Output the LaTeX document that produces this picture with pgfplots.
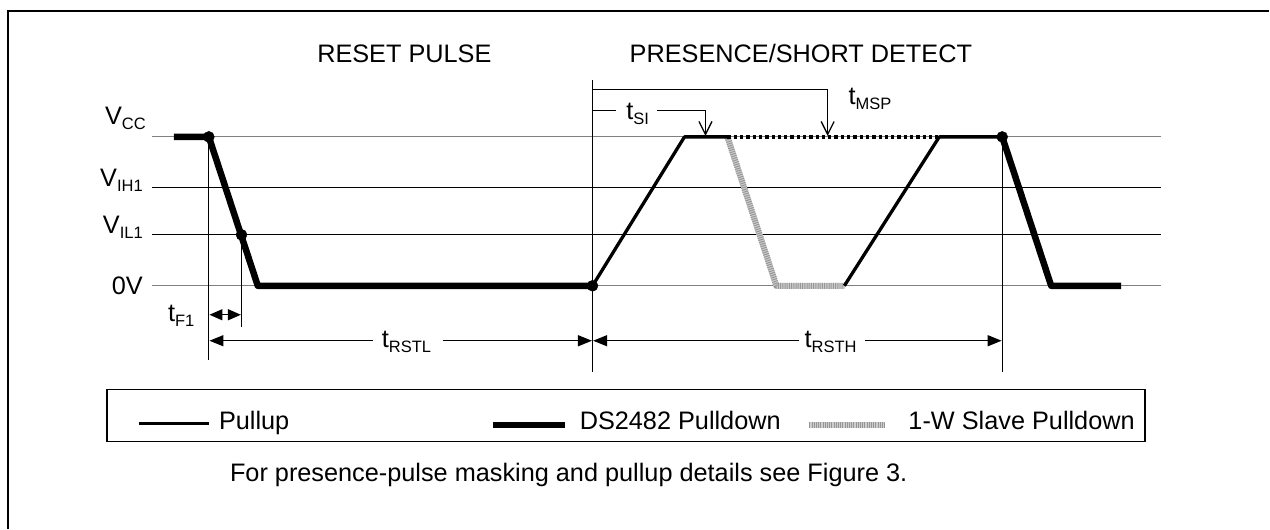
\documentclass[border=0pt]{standalone}
\usepackage{pgfplots}
\pgfplotsset{compat=1.18}
\usetikzlibrary{arrows.meta}
\usepackage{fontspec}
\setmainfont{Liberation Sans}
\newcommand{\sub}[1]{\raisebox{-5pt}{\fontsize{16.5}{16.5}\selectfont #1}}
\definecolor{refgray}{RGB}{128,128,128}
\definecolor{slavegray}{RGB}{205,205,205}
\definecolor{slavedark}{RGB}{150,150,150}
\begin{document}
\begin{tikzpicture}
\begin{axis}[hide axis, scale only axis, width=1270pt, height=529pt,
  xmin=0, xmax=1270, ymin=0, ymax=529, y dir=reverse, clip=false]
% page extent
\path (axis cs:0,0) rectangle (axis cs:1270,529);
% frame
\draw[line width=2pt] (axis cs:8.3,529) -- (axis cs:8.3,11) -- (axis cs:1270,11);
% reference levels
\addplot[refgray, line width=1.2pt] coordinates {(152,137)(1162,137)};
\addplot[black, line width=1pt] coordinates {(152,188)(1162,188)};
\addplot[black, line width=1pt] coordinates {(152,235)(1162,235)};
\addplot[refgray, line width=1.2pt] coordinates {(152,286)(1162,286)};
% vertical timing lines
\draw[line width=1.3pt] (axis cs:209,137) -- (axis cs:209,360);
\draw[line width=1.3pt] (axis cs:241.7,235) -- (axis cs:241.7,327);
\draw[line width=1.3pt] (axis cs:593,80) -- (axis cs:593,372);
\draw[line width=1.3pt] (axis cs:1003,137) -- (axis cs:1003,372);
% waveforms
\addplot[slavegray, line width=6pt, line join=round] coordinates {(728,137)(777,286)(845,286)};
\addplot[slavedark, line width=6pt, line join=round, dash pattern=on 1pt off 1.2pt] coordinates {(728,137)(777,286)(845,286)};
\addplot[black, line width=3.3pt, dash pattern=on 3.3pt off 3pt] coordinates {(728,137)(940,137)};
\addplot[black, line width=3.3pt, line join=round] coordinates {(593,286)(685,137)(728,137)};
\addplot[black, line width=3.3pt, line join=round] coordinates {(845,286)(940,137)(1003,137)};
\addplot[black, line width=6.5pt, line join=round] coordinates {(174,137)(209,137)(258,286)(593,286)};
\addplot[black, line width=6.5pt, line join=round] coordinates {(1003,137)(1052,286)(1122,286)};
\addplot[only marks, mark=*, mark size=5.5, black] coordinates {(209,137)(241.7,235)(593,286)(1003,137)};
% top brackets
\draw[line width=1.3pt] (axis cs:593,110.7) -- (axis cs:616.7,110.7);
\draw[line width=1.3pt, -{Straight Barb[length=13pt,width=13pt]}] (axis cs:658,110.7) -- (axis cs:706,110.7) -- (axis cs:706,136);
\draw[line width=1.3pt, -{Straight Barb[length=13pt,width=13pt]}] (axis cs:593,89.3) -- (axis cs:828.3,89.3) -- (axis cs:828.3,136);
% dimension arrows
\draw[line width=1.3pt, {Triangle[length=13pt,width=11pt]}-{Triangle[length=13pt,width=11pt]}] (axis cs:209.6,315) -- (axis cs:241.1,315);
\draw[line width=1.3pt, -{Triangle[length=14pt,width=11pt]}] (axis cs:373,341) -- (axis cs:209.6,341);
\draw[line width=1.3pt, -{Triangle[length=14pt,width=11pt]}] (axis cs:443,341) -- (axis cs:592.4,341);
\draw[line width=1.3pt, -{Triangle[length=14pt,width=11pt]}] (axis cs:800,341) -- (axis cs:593.6,341);
\draw[line width=1.3pt, -{Triangle[length=14pt,width=11pt]}] (axis cs:866,341) -- (axis cs:1002.4,341);
% texts
\begin{scope}[every node/.style={inner sep=0pt, font=\fontsize{25.3}{30}\selectfont}]
\node[anchor=base west] at (axis cs:317.3,62.3) {RESET PULSE};
\node[anchor=base west] at (axis cs:630,62.3) {PRESENCE/SHORT DETECT};
\node[anchor=base east] at (axis cs:146,125) {V\sub{CC}};
\node[anchor=base east] at (axis cs:143,187) {V\sub{IH1}};
\node[anchor=base east] at (axis cs:143,234) {V\sub{IL1}};
\node[anchor=base east] at (axis cs:143,295) {0V};
\node[anchor=base west] at (axis cs:626.7,119.5) {t\sub{SI}};
\node[anchor=base west] at (axis cs:849,104.5) {t\sub{MSP}};
\node[anchor=base west] at (axis cs:168,322) {t\sub{F1}};
\node[anchor=base west] at (axis cs:382,348) {t\sub{RSTL}};
\node[anchor=base west] at (axis cs:805,348) {t\sub{RSTH}};
% legend
\draw[line width=1.3pt] (axis cs:107,390) rectangle (axis cs:1146,442);
\draw[line width=3pt] (axis cs:139,424) -- (axis cs:209,424);
\draw[line width=6pt] (axis cs:493,425) -- (axis cs:565,425);
\draw[slavegray, line width=6pt] (axis cs:810,425) -- (axis cs:885,425);
\draw[slavedark, line width=6pt, dash pattern=on 1pt off 1.2pt] (axis cs:810,425) -- (axis cs:885,425);
\node[anchor=base west] at (axis cs:219,430) {Pullup};
\node[anchor=base west] at (axis cs:580,430) {DS2482 Pulldown};
\node[anchor=base west] at (axis cs:909,430) {1-W Slave Pulldown};
\node[anchor=base west] at (axis cs:230,482) {For presence-pulse masking and pullup details see Figure 3.};
\end{scope}
\end{axis}
\end{tikzpicture}
\end{document}
